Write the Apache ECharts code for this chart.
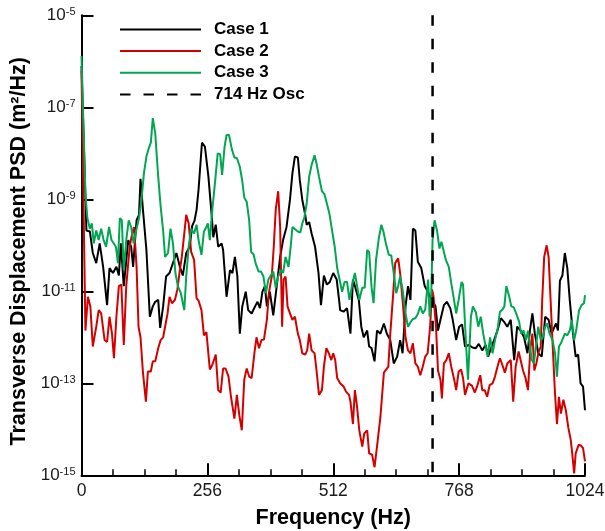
<!DOCTYPE html>
<html>
<head>
<meta charset="utf-8">
<script src="https://cdn.jsdelivr.net/npm/echarts@6/dist/echarts.min.js"></script>
<style>
  html, body { margin: 0; padding: 0; background: #fff; }
  #chart { width: 605px; height: 531px; }
</style>
</head>
<body>
<div id="chart"></div>
<script>
// Transverse displacement PSD (m^2/Hz) against frequency (Hz)

const case1Freq = [0,10,17,23,30,37,44,52,57,64,71,76,80,86,95,101,105,112,117,120,125,132,139,145,150,156,160,166,172,179,186,193,200,206,213,220,225,230,234,238,245,251,258,265,268,273,278,285,288,295,302,307,312,317,322,327,334,339,346,353,358,363,368,373,377,383,390,397,404,410,417,424,429,434,440,444,449,455,458,463,468,475,482,487,493,499,505,512,519,524,526,533,540,547,552,557,564,569,574,581,585,590,596,601,608,615,621,628,635,642,648,653,659,664,669,674,679,684,691,698,706,712,720,725,730,737,743,750,755,762,768,774,780,788,795,802,808,815,822,827,834,839,846,853,859,866,873,880,886,893,900,907,912,917,922,929,936,943,950,956,965,969,973,978,983,988,993,998,1005,1010,1015,1020,1024];
const case1Psd = [7.9e-7,2.1e-10,2.0e-10,6.8e-11,4.1e-11,1.1e-10,3.4e-11,5.0e-12,3.2e-11,2.5e-11,3.4e-11,2.2e-11,1.1e-10,1.3e-11,1.3e-10,9.3e-11,3.4e-11,3.5e-10,4.6e-10,2.8e-9,5.9e-10,7.9e-11,2.8e-12,4.7e-12,5.9e-12,6.5e-12,1.6e-12,4.7e-12,2.1e-11,2.5e-11,4.1e-11,6.8e-11,3.4e-11,2.2e-11,6.8e-11,9.3e-11,2.6e-10,3.5e-10,5.9e-10,1.6e-9,1.7e-8,1.4e-8,3.2e-9,4.2e-10,1.5e-10,2.8e-10,9.3e-11,1.1e-10,7.9e-11,7.6e-12,2.9e-11,2.5e-11,5.6e-11,2.1e-11,1.2e-12,4.7e-12,9.8e-12,3.9e-12,3.3e-12,4.7e-12,5.9e-12,4.3e-12,9.8e-12,1.3e-11,4.7e-12,9.8e-12,3.0e-12,1.3e-11,5.6e-11,1.3e-10,2.5e-10,9.8e-10,3.7e-9,8.5e-9,8.1e-9,2.6e-9,9.8e-10,4.6e-10,2.8e-10,3.2e-10,1.8e-10,9.3e-11,2.5e-11,5.0e-12,2.2e-11,1.4e-11,1.6e-11,2.5e-11,1.8e-11,6.3e-12,3.9e-12,3.6e-12,4.3e-12,1.2e-12,1.8e-11,1.2e-11,6.5e-12,1.7e-12,1.0e-12,1.4e-12,6.3e-13,5.8e-13,3.0e-13,1.4e-12,1.2e-12,2.0e-12,1.2e-12,8.7e-13,2.7e-13,3.8e-13,8.7e-13,4.5e-13,4.7e-12,1.3e-11,6.5e-12,2.3e-10,2.1e-10,4.4e-11,3.2e-11,1.3e-11,9.1e-12,6.5e-12,4.7e-12,1.4e-12,2.4e-12,5.0e-12,5.9e-12,4.3e-12,2.4e-12,8.7e-13,1.7e-12,1.9e-12,6.3e-13,6.8e-13,6.0e-13,5.8e-13,7.2e-13,5.2e-13,6.8e-13,3.8e-13,6.3e-13,8.7e-13,1.4e-12,2.6e-12,2.2e-12,1.7e-12,2.4e-12,3.2e-13,1.7e-12,1.4e-12,1.0e-12,4.5e-13,1.4e-12,3.3e-12,1.2e-12,4.5e-13,3.8e-13,2.8e-12,2.4e-12,1.2e-12,2.0e-12,1.4e-12,1.7e-11,2.2e-11,6.8e-11,3.2e-11,6.5e-12,1.7e-12,3.8e-13,4.2e-13,1.0e-13,8.5e-14,2.6e-14];

const case2Freq = [0,8,13,18,23,30,35,40,47,52,57,62,66,71,76,81,86,91,98,103,107,112,116,120,125,131,135,141,145,150,156,161,166,170,175,179,184,190,195,200,204,209,213,218,223,229,234,238,244,249,254,261,266,273,278,283,288,293,299,304,311,316,321,326,331,336,341,346,352,356,361,366,371,377,381,387,391,395,400,404,408,411,415,419,424,429,434,440,444,449,455,459,463,468,474,478,483,489,493,498,503,508,512,516,520,526,533,538,544,547,552,556,560,565,571,575,581,585,591,596,601,608,615,619,624,628,634,638,644,648,653,659,664,669,674,679,684,689,694,699,704,709,713,716,721,725,730,733,737,742,747,752,758,762,767,772,776,780,787,794,800,805,811,815,820,825,830,836,841,846,851,856,861,866,873,878,883,889,893,898,903,908,913,917,921,925,929,934,937,941,946,950,954,959,963,967,971,975,980,985,990,995,998,1002,1005,1011,1016,1020,1024];
const case2Psd = [6.3e-7,1.4e-12,7.6e-12,4.7e-12,6.3e-13,1.7e-12,3.9e-12,3.3e-12,8.7e-13,7.9e-13,2.8e-12,1.2e-12,3.5e-13,2.8e-12,1.3e-11,1.4e-11,6.8e-13,1.3e-11,9.3e-11,1.8e-10,2.5e-10,3.4e-11,1.7e-12,1.0e-12,1.7e-13,4.0e-14,1.8e-13,1.8e-13,3.0e-13,3.0e-13,5.8e-13,8.7e-13,1.0e-12,1.7e-12,3.3e-12,7.6e-12,5.5e-12,6.5e-12,1.1e-11,2.9e-11,5.6e-11,1.8e-10,4.6e-10,3.0e-10,7.2e-11,4.8e-11,7.1e-12,6.3e-12,3.9e-12,1.1e-12,1.3e-12,2.0e-13,2.5e-13,4.2e-13,7.1e-14,6.3e-14,2.1e-13,2.1e-13,1.4e-13,5.1e-14,1.7e-14,5.6e-14,2.0e-14,9.5e-15,1.2e-13,2.1e-13,1.4e-13,1.3e-13,4.9e-13,1.0e-12,5.8e-13,8.7e-13,8.9e-13,2.4e-12,9.1e-12,2.1e-11,9.3e-11,5.9e-10,1.5e-9,2.5e-10,1.7e-12,1.8e-11,2.1e-11,4.7e-12,3.3e-12,2.4e-12,2.8e-12,1.2e-12,8.7e-13,4.5e-13,4.2e-13,5.2e-13,1.2e-12,5.2e-13,4.5e-13,1.9e-13,5.6e-14,7.1e-14,2.3e-13,5.8e-13,4.5e-13,3.2e-13,4.5e-13,3.2e-13,1.3e-13,1.0e-13,8.5e-14,6.6e-14,5.6e-14,4.0e-14,1.3e-14,7.1e-14,3.4e-14,9.5e-15,4.2e-15,8.1e-15,9.5e-15,3.0e-15,2.8e-15,1.5e-15,4.2e-15,1.9e-14,1.7e-13,1.7e-13,2.3e-13,1.2e-12,9.1e-12,4.1e-11,5.2e-11,2.5e-11,6.5e-12,1.0e-12,5.2e-13,4.5e-13,7.4e-13,2.7e-13,2.3e-13,1.5e-13,2.3e-13,3.8e-13,4.5e-13,1.7e-12,1.1e-11,7.6e-12,1.7e-12,1.9e-13,1.2e-13,4.7e-14,2.7e-13,3.2e-13,4.5e-13,2.3e-13,1.2e-13,7.1e-14,1.8e-13,2.0e-13,1.3e-13,5.6e-14,1.0e-13,8.9e-14,6.3e-14,8.9e-14,1.5e-13,7.1e-14,7.1e-14,5.1e-14,9.1e-14,1.0e-13,1.4e-13,2.3e-13,3.5e-13,2.5e-13,1.7e-13,2.7e-13,3.2e-13,4.0e-14,2.3e-13,4.9e-13,4.5e-13,1.9e-13,1.3e-13,7.1e-14,5.8e-13,1.2e-12,1.9e-13,2.7e-13,4.5e-13,6.3e-13,6.5e-12,5.6e-11,1.0e-10,5.6e-11,6.5e-12,4.5e-13,6.0e-14,1.3e-14,5.1e-14,2.2e-14,4.4e-14,2.6e-14,1.1e-14,5.9e-15,3.0e-15,1.1e-15,3.0e-15,4.6e-15,4.4e-15,3.9e-15,2.0e-15];

const case3Freq = [0,8,12,17,21,25,30,35,40,45,50,56,61,65,70,74,78,82,86,91,96,101,106,112,117,122,127,132,137,141,145,150,156,161,166,170,176,181,186,191,196,202,209,213,218,223,229,234,238,244,249,254,257,261,266,272,277,282,286,291,295,300,306,311,316,322,327,331,336,341,345,350,354,360,365,370,375,380,385,390,395,400,406,410,415,421,425,429,435,440,445,449,453,458,463,468,474,478,483,489,494,499,504,509,515,520,524,530,535,540,545,550,556,560,565,571,576,581,585,590,594,599,605,610,614,619,625,630,635,640,644,648,653,659,664,670,674,679,684,689,694,699,705,708,711,714,718,723,728,732,736,741,747,752,757,762,767,773,776,781,786,792,796,802,807,812,817,822,826,831,836,841,847,851,856,860,864,870,874,879,884,890,894,899,904,908,912,916,920,925,929,934,938,943,947,952,958,963,967,971,975,979,983,988,993,997,1002,1006,1012,1017,1022,1024];
const case3Psd = [1.3e-6,1.3e-9,3.9e-10,2.3e-10,3.0e-10,1.1e-10,2.1e-10,1.3e-10,2.3e-10,1.3e-10,9.3e-11,2.5e-10,1.3e-10,1.4e-10,9.3e-11,4.1e-11,3.9e-10,3.5e-10,2.9e-11,1.3e-10,3.5e-10,2.5e-10,1.1e-10,2.3e-10,3.9e-10,9.8e-10,3.7e-9,8.5e-9,1.3e-8,1.7e-8,5.8e-8,2.7e-8,3.1e-9,6.9e-10,2.1e-10,5.6e-11,6.8e-11,2.3e-10,1.1e-10,2.5e-11,1.3e-11,9.1e-12,3.9e-12,2.1e-11,9.3e-11,2.3e-10,1.8e-10,2.8e-10,1.3e-10,6.2e-11,2.0e-10,2.5e-10,3.0e-10,1.3e-10,5.9e-10,2.6e-9,1.0e-8,9.5e-9,3.4e-9,1.4e-8,2.5e-8,2.5e-8,1.2e-8,8.1e-9,7.9e-9,5.1e-9,2.5e-9,1.1e-9,8.9e-10,3.5e-10,7.2e-11,6.3e-11,4.1e-11,2.7e-11,2.7e-11,2.1e-11,9.1e-12,1.8e-11,2.2e-11,2.7e-11,1.2e-11,2.1e-11,2.9e-11,2.5e-11,5.6e-11,3.4e-11,8.5e-11,2.5e-10,2.2e-10,2.0e-10,1.9e-10,3.0e-10,3.9e-10,8.1e-10,3.1e-9,5.6e-9,9.1e-9,6.0e-9,3.1e-9,1.5e-9,1.3e-9,8.1e-10,5.0e-10,2.3e-10,9.3e-11,3.2e-11,3.2e-11,9.8e-12,1.6e-11,1.6e-11,6.5e-12,1.3e-11,2.5e-11,1.4e-11,6.5e-12,1.2e-11,1.2e-11,7.9e-11,7.1e-11,1.2e-11,5.5e-12,4.8e-11,1.5e-10,2.8e-10,2.0e-10,1.1e-10,6.2e-11,6.0e-11,2.5e-11,9.1e-12,1.3e-11,2.1e-11,1.1e-11,3.3e-12,1.7e-12,2.2e-12,2.5e-12,2.6e-12,3.2e-12,4.7e-12,3.3e-12,4.0e-12,1.8e-11,2.8e-12,6.3e-12,1.3e-10,3.5e-10,2.1e-10,8.5e-11,1.2e-10,1.1e-10,4.8e-11,3.4e-11,1.5e-11,7.1e-12,3.3e-12,6.5e-12,1.6e-11,1.4e-11,1.2e-12,1.2e-13,2.8e-12,4.7e-12,3.5e-12,1.7e-12,2.8e-12,1.2e-12,6.3e-13,3.8e-13,1.0e-12,4.5e-13,8.7e-13,1.7e-12,3.6e-12,4.0e-12,4.7e-12,1.3e-11,7.6e-12,4.7e-12,4.5e-12,3.3e-12,2.2e-12,1.2e-12,1.4e-12,8.7e-13,1.4e-12,6.3e-13,3.2e-13,2.7e-13,7.4e-13,1.7e-12,8.7e-13,1.0e-12,1.7e-12,2.0e-12,1.2e-12,8.7e-13,4.5e-13,1.4e-13,6.3e-13,7.4e-13,7.9e-13,1.2e-12,1.1e-12,1.4e-12,2.4e-12,8.7e-13,1.4e-12,3.9e-12,5.0e-12,5.5e-12,8.3e-12];

// Reference line at the 714 Hz oscillation frequency
const oscFreq = 714;

// Axis ranges and ticks (y axis works in decades of PSD)
const freqMin = 0, freqMax = 1024, freqStep = 256;
const decadeMin = -15, decadeMax = -5, decadeStep = 2;

const FONT = '"Liberation Sans", Arial, Helvetica, sans-serif';

function toLogPoints(freq, psd) {
  return freq.map((f, i) => [f, Math.log10(psd[i])]);
}

const chart = echarts.init(document.getElementById('chart'), null, { renderer: 'canvas' });

chart.setOption({
  animation: false,
  backgroundColor: '#ffffff',
  grid: { left: 81.5, right: 20, top: 15.3, bottom: 55.7, containLabel: false, outerBoundsMode: 'none' },
  legend: {
    orient: 'vertical',
    left: 119,
    top: 20.9,
    padding: 0,
    itemWidth: 81,
    itemHeight: 14,
    itemGap: 4.7,
    itemStyle: { opacity: 0 },
    data: ['Case 1', 'Case 2', 'Case 3', '714 Hz Osc'],
    textStyle: {
      fontFamily: FONT, fontSize: 17, fontWeight: 'bold', color: '#000',
      padding: [0, 0, 0, 8]
    }
  },
  xAxis: {
    type: 'value',
    min: freqMin, max: freqMax, interval: freqStep,
    name: 'Frequency (Hz)',
    nameLocation: 'middle',
    nameGap: 32,
    nameTextStyle: { fontFamily: FONT, fontSize: 21.5, fontWeight: 'bold', color: '#000' },
    axisLine: { onZero: false, lineStyle: { color: '#000', width: 2 } },
    axisTick: { inside: true, length: 12, lineStyle: { color: '#000', width: 2 } },
    minorTick: { show: true, splitNumber: 4, length: 6, lineStyle: { color: '#000', width: 1.5 } },
    axisLabel: { margin: 7, fontFamily: FONT, fontSize: 17.5, color: '#1a1a1a', formatter: (v) => String(v) },
    splitLine: { show: false },
    minorSplitLine: { show: false }
  },
  yAxis: {
    type: 'value',
    min: decadeMin, max: decadeMax, interval: decadeStep,
    name: 'Transverse Displacement PSD (m²/Hz)',
    nameLocation: 'middle',
    nameGap: 49,
    nameTextStyle: { fontFamily: FONT, fontSize: 21.5, fontWeight: 'bold', color: '#000', padding: [0, 12, 0, 0] },
    axisLine: { onZero: false, lineStyle: { color: '#000', width: 2 } },
    axisTick: { inside: true, length: 12, lineStyle: { color: '#000', width: 2 } },
    axisLabel: {
      margin: 6,
      formatter: (v) => '{b|10}{e|' + v + '}',
      rich: {
        b: { fontFamily: FONT, fontSize: 17, color: '#1a1a1a', verticalAlign: 'bottom', lineHeight: 18 },
        e: { fontFamily: FONT, fontSize: 11, color: '#1a1a1a', verticalAlign: 'top', lineHeight: 18 }
      }
    },
    splitLine: { show: false }
  },
  series: [
    {
      name: 'Case 1', type: 'line', symbol: 'none', z: 3,
      lineStyle: { color: '#000000', width: 2 }, itemStyle: { color: '#000000' },
      data: toLogPoints(case1Freq, case1Psd)
    },
    {
      name: 'Case 2', type: 'line', symbol: 'none', z: 3,
      lineStyle: { color: '#d40000', width: 2 }, itemStyle: { color: '#d40000' },
      data: toLogPoints(case2Freq, case2Psd)
    },
    {
      name: 'Case 3', type: 'line', symbol: 'none', z: 3,
      lineStyle: { color: '#00a651', width: 2 }, itemStyle: { color: '#00a651' },
      data: toLogPoints(case3Freq, case3Psd)
    },
    {
      name: '714 Hz Osc', type: 'line', symbol: 'none', z: 4,
      lineStyle: { color: '#000000', width: 2.5, type: [10.5, 13] }, itemStyle: { color: '#000000' },
      data: [[oscFreq, decadeMax], [oscFreq, decadeMin]]
    }
  ]
});
</script>
</body>
</html>
